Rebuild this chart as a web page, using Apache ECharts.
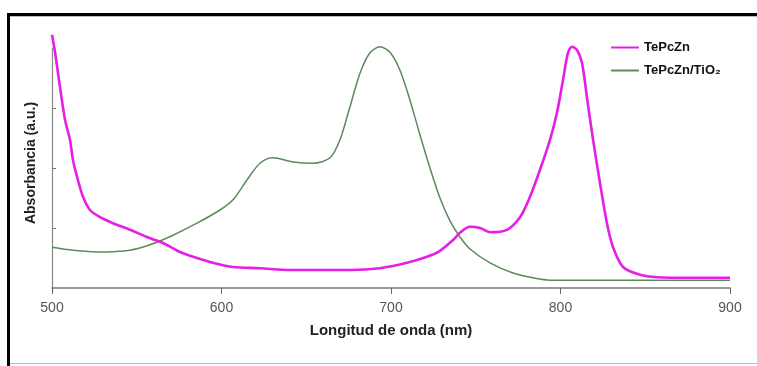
<!DOCTYPE html>
<html>
<head>
<meta charset="utf-8">
<script src="https://cdn.jsdelivr.net/npm/echarts@6/dist/echarts.min.js"></script>
<style>html,body{margin:0;padding:0;background:#fff}#c{width:757px;height:366px}</style>
</head>
<body>
<div id="c"></div>
<script>
var seriesNames = ['TePcZn', 'TePcZn/TiO\u2082'];
var xTicks = [500, 600, 700, 800, 900];
var yTickValues = [1, 2, 3];

var pinkNm = [500, 501.8, 504.7, 507.7, 510.6, 512.4, 515.3, 518.3, 522.4, 528.3, 536, 546, 556, 565.5, 575.5, 585.5, 595, 606.8, 622.7, 640.4, 658.1, 675.8, 693.5, 709.4, 721.2, 728.9, 736.6, 740.7, 746.6, 752.5, 758.4, 768.4, 776.1, 782, 787.9, 793.8, 797.9, 801.5, 804.4, 806.8, 809.7, 812.7, 815.6, 819.2, 823.3, 827.4, 831, 836.9, 846.9, 856.9, 876.4, 900];
var pinkAbs = [4.22, 3.93, 3.35, 2.80, 2.47, 2.13, 1.80, 1.52, 1.30, 1.18, 1.08, 0.97, 0.85, 0.75, 0.60, 0.50, 0.42, 0.35, 0.33, 0.30, 0.30, 0.30, 0.33, 0.42, 0.52, 0.62, 0.80, 0.92, 1.02, 1.00, 0.93, 0.97, 1.18, 1.52, 1.97, 2.47, 2.92, 3.47, 3.92, 4.02, 3.97, 3.75, 3.18, 2.47, 1.75, 1.08, 0.68, 0.35, 0.22, 0.18, 0.17, 0.17];

var greenNm = [500, 512.4, 528.3, 546, 557.8, 571.4, 585.5, 599.1, 606.8, 615, 622.7, 630.4, 642.2, 654, 664, 669.9, 675.8, 681.7, 687.6, 693.5, 699.4, 705.3, 711.2, 717.1, 723, 728.9, 734.8, 740.7, 746.6, 758.4, 772, 783.8, 793.8, 850, 900];
var greenAbs = [0.68, 0.63, 0.60, 0.63, 0.72, 0.88, 1.08, 1.30, 1.47, 1.80, 2.08, 2.17, 2.10, 2.08, 2.17, 2.47, 3.02, 3.58, 3.92, 4.02, 3.93, 3.63, 3.13, 2.55, 2.00, 1.50, 1.12, 0.85, 0.65, 0.42, 0.25, 0.17, 0.13, 0.13, 0.13];

function pairs(xs, ys) { return xs.map(function (x, i) { return [x, ys[i]]; }); }

var chart = echarts.init(document.getElementById('c'), null, { renderer: 'canvas' });
chart.setOption({
  backgroundColor: '#ffffff',
  animation: false,
  grid: { left: 52, right: 27, top: 48, bottom: 74, containLabel: false },
  legend: {
    data: seriesNames,
    orient: 'vertical',
    left: 606,
    top: 36,
    itemWidth: 28,
    itemHeight: 2,
    itemGap: 10,
    icon: 'rect',
    textStyle: { fontFamily: 'Liberation Sans', fontWeight: 'bold', fontSize: 13, color: '#111' }
  },
  xAxis: {
    type: 'value', min: 500, max: 900, interval: 100,
    name: 'Longitud de onda (nm)', nameLocation: 'middle', nameGap: 31,
    nameTextStyle: { fontFamily: 'Liberation Sans', fontWeight: 'bold', fontSize: 15, color: '#222' },
    axisLine: { lineStyle: { color: '#777', width: 1.5 } },
    axisTick: { show: true, length: 6, lineStyle: { color: '#666' }, customValues: xTicks },
    axisLabel: { fontFamily: 'Liberation Sans', fontSize: 14, color: '#555', margin: 9, customValues: xTicks },
    splitLine: { show: false }
  },
  yAxis: {
    type: 'value', min: -0.0667, max: 4,
    name: 'Absorbancia (a.u.)', nameLocation: 'middle', nameGap: 14,
    nameTextStyle: { fontFamily: 'Liberation Sans', fontWeight: 'bold', fontSize: 14, color: '#222', padding: [0, 0, 0, 14] },
    axisLine: { show: true, lineStyle: { color: '#888', width: 1.2 } },
    axisTick: { show: true, inside: true, length: 4, lineStyle: { color: '#777' }, customValues: yTickValues },
    axisLabel: { show: false },
    splitLine: { show: false }
  },
  graphic: [
    { type: 'rect', shape: { x: 7, y: 13, width: 750, height: 3 }, style: { fill: '#000' }, silent: true },
    { type: 'rect', shape: { x: 7, y: 13, width: 3, height: 353 }, style: { fill: '#000' }, silent: true },
    { type: 'rect', shape: { x: 10, y: 16, width: 747, height: 1 }, style: { fill: '#bbb' }, silent: true },
    { type: 'rect', shape: { x: 10, y: 363, width: 747, height: 1 }, style: { fill: '#bbb' }, silent: true }
  ],
  series: [
    {
      name: seriesNames[1], type: 'line', data: pairs(greenNm, greenAbs),
      showSymbol: false, smooth: 0.3, clip: false,
      lineStyle: { color: '#5b8a5b', width: 1.5 }, itemStyle: { color: '#5b8a5b' }
    },
    {
      name: seriesNames[0], type: 'line', data: pairs(pinkNm, pinkAbs),
      showSymbol: false, smooth: 0.3, clip: false,
      lineStyle: { color: '#e61ee6', width: 2.6 }, itemStyle: { color: '#e61ee6' }
    }
  ]
});
</script>
</body>
</html>
